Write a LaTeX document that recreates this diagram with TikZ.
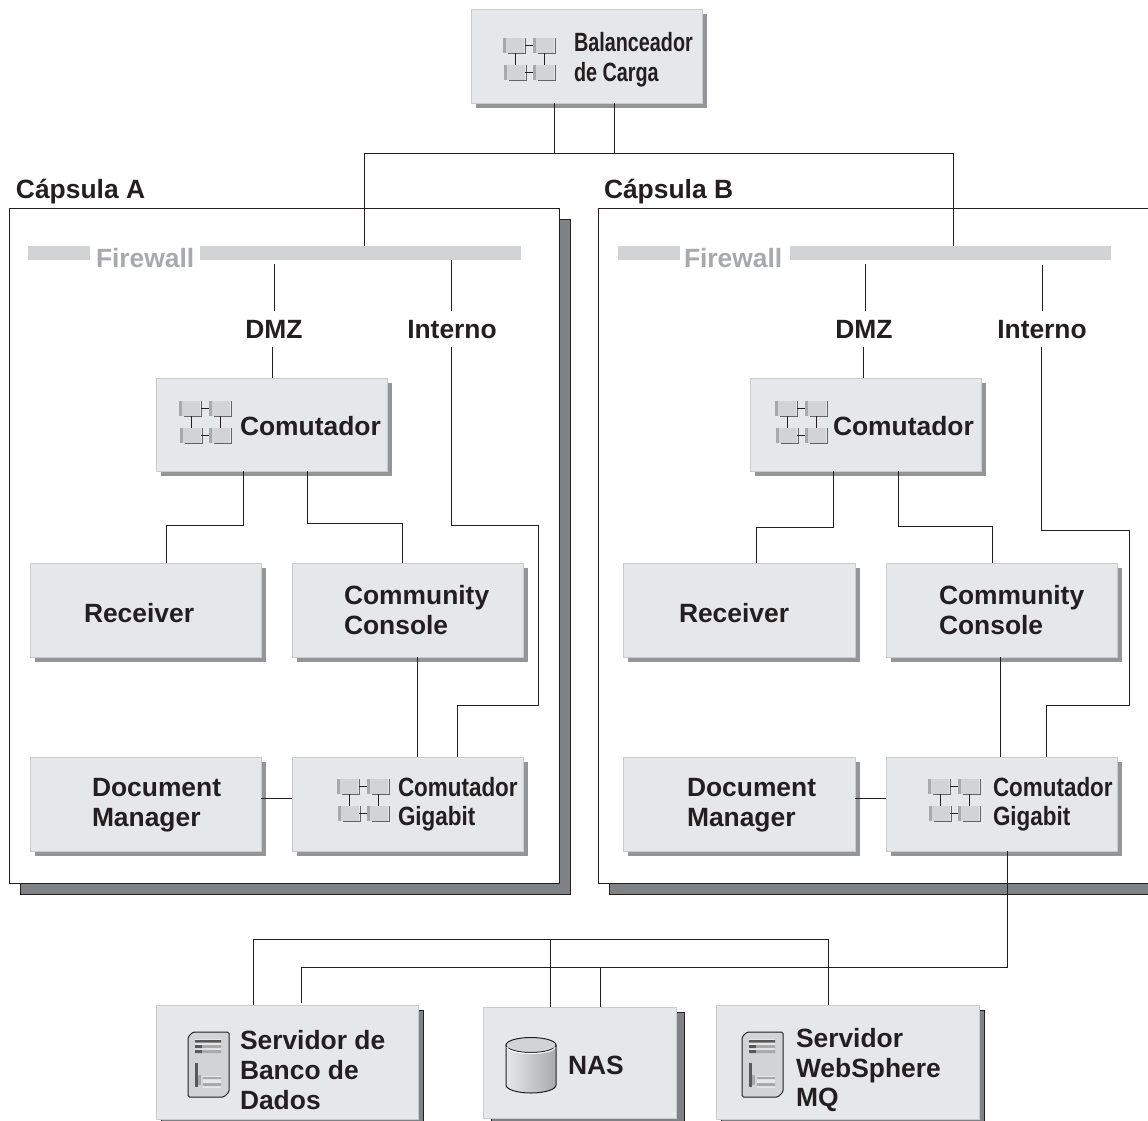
\documentclass[tikz,border=0pt]{standalone}
\usepackage{fontspec}
\setmainfont{Liberation Sans}
\usetikzlibrary{shadows}
\definecolor{ink}{HTML}{231F20}
\definecolor{boxfill}{HTML}{E6E7E8}
\definecolor{boxedge}{HTML}{C9CBCC}
\definecolor{shadelight}{HTML}{939598}
\definecolor{shadedark}{HTML}{808285}
\definecolor{barcol}{HTML}{D1D3D4}
\definecolor{fwtext}{HTML}{A7A9AC}
\newcommand{\narrowtext}[2]{\scalebox{#1}[1]{#2}}
\tikzset{
  x=1pt,y=-1pt,
  box/.style={draw=boxedge,fill=boxfill,line width=1pt,anchor=north west,inner sep=0,outer sep=0,
    drop shadow={shadow xshift=5pt,shadow yshift=-5pt,opacity=1,fill=shadelight,draw=none}},
  darkbox/.style={draw=boxedge,fill=boxfill,line width=1pt,anchor=north west,inner sep=0,outer sep=0,
    drop shadow={shadow xshift=#1,shadow yshift=-5pt,opacity=1,fill=shadedark,draw=ink,line width=.6pt}},
  capsule/.style={draw=ink,fill=white,line width=1pt,anchor=north west,inner sep=0,outer sep=0,
    drop shadow={shadow xshift=11pt,shadow yshift=-11pt,opacity=1,fill=shadedark,draw=ink,line width=.6pt}},
  bar/.style={fill=barcol,draw=none,anchor=north west,inner sep=0,outer sep=0,minimum height=14pt},
  txt/.style={font=\fontsize{26.4}{30}\selectfont\bfseries,text=ink,inner sep=0,outer sep=0,anchor=base west,align=left},
  fwtxt/.style={txt,text=fwtext},
  zonetxt/.style={font=\fontsize{26.4}{30}\selectfont\bfseries,text=ink,inner sep=9pt,outer sep=0,anchor=base},
  link/.style={draw=ink,line width=1pt},
  switchicon/.pic={
    \foreach \a/\b in {0/0,30/0,1/27,30/27}{
      \fill[barcol] (\a,\b) rectangle ++(21,15);
      \fill[fwtext] (\a,\b) rectangle ++(3,15);
      \draw[ink!70,line width=.8pt] (\a+5,\b+15) -- ++(17,0) -- ++(0,-15);
    }
    \draw[ink,line width=.9pt] (22,7) -- (30,7) (22,34) -- (30,34) (12,15) -- (12,27) (41,15) -- (41,27);
  },
  servericon/.pic={
    \draw[ink,line width=1pt,fill=barcol,rounded corners=1.5pt] (5,0) -- (41,0) -- (41,60) -- (36,65) -- (0,65) -- (0,5) -- cycle;
    \fill[boxfill] (7,7) rectangle (33,21);
    \fill[ink!75] (7,8) rectangle (33,10.5) (7,13) rectangle (14,16) (7,18) rectangle (14,21);
    \fill[fwtext] (14,13) rectangle (33,16) (14,18) rectangle (33,21);
    \fill[ink!75] (7,31) rectangle (10,55);
    \fill[fwtext] (10,43) rectangle (13,53);
    \fill[boxfill] (15,44) rectangle (33,56);
    \fill[fwtext] (15,45) rectangle (33,47) (15,51) rectangle (33,54);
  },
  cylindericon/.pic={
    \begin{scope}
      \clip (0,8) -- (0,48) arc[start angle=180,end angle=0,x radius=25,y radius=8] -- (50,8) -- cycle;
      \foreach \s in {0,...,24}{
        \pgfmathtruncatemacro{\p}{100-4*\s}
        \fill[boxfill!\p!fwtext] (2*\s,0) rectangle ++(2.4,60);
      }
    \end{scope}
    \draw[ink,line width=1pt] (0,8) -- (0,48) arc[start angle=180,end angle=0,x radius=25,y radius=8] -- (50,8);
    \draw[ink,line width=1pt,fill=barcol] (25,8) ellipse[x radius=25,y radius=7.5];
    \draw[white,line width=1pt] (1,10) arc[start angle=180,end angle=0,x radius=24,y radius=6.5];
  },
}
\begin{document}
\begin{tikzpicture}
\clip (0,0) rectangle (1148,1121);
\fill[white] (0,0) rectangle (1148,1121);

% capsules
\node[capsule,minimum width=550pt,minimum height=675pt] (capA) at (9.4,208.6) {};
\node[capsule,minimum width=570pt,minimum height=675pt] (capB) at (598.5,208.6) {};
\node[txt] (capAlbl) at (16,198.500) {Cápsula A};
\node[txt] (capBlbl) at (604,198.500) {Cápsula B};

% firewalls
\node[bar,minimum width=62pt] (fwAl) at (28,246) {};
\node[bar,minimum width=321pt] (fwAr) at (200,246) {};
\node[bar,minimum width=62pt] (fwBl) at (618,246) {};
\node[bar,minimum width=321pt] (fwBr) at (790,246) {};
\node[fwtxt] (fwAlbl) at (96,267) {Firewall};
\node[fwtxt] (fwBlbl) at (684,267) {Firewall};

% zone labels
\node[zonetxt] (dmzA) at (274,338) {DMZ};
\node[zonetxt] (intA) at (452,338) {Interno};
\node[zonetxt] (dmzB) at (864,338) {DMZ};
\node[zonetxt] (intB) at (1042,338) {Interno};
\coordinate (dmzAtop) at (274,264);
\coordinate (intAtop) at (451,260);
\coordinate (dmzBtop) at (865,264);
\coordinate (intBtop) at (1042,265);

% boxes
\node[box,minimum width=231pt,minimum height=94pt] (lb) at (471,9.500) {};
\node[box,minimum width=231pt,minimum height=93pt] (swA) at (156,378) {};
\node[box,minimum width=231pt,minimum height=94pt] (recA) at (30,563) {};
\node[box,minimum width=231pt,minimum height=94pt] (comA) at (292,563) {};
\node[box,minimum width=231pt,minimum height=94pt] (docA) at (30,757) {};
\node[box,minimum width=231pt,minimum height=94pt] (gigA) at (292,757) {};
\node[box,minimum width=231pt,minimum height=93pt] (swB) at (750,378) {};
\node[box,minimum width=232pt,minimum height=94pt] (recB) at (623,563) {};
\node[box,minimum width=231pt,minimum height=94pt] (comB) at (886,563) {};
\node[box,minimum width=232pt,minimum height=94pt] (docB) at (623,757) {};
\node[box,minimum width=231pt,minimum height=94pt] (gigB) at (886,757) {};
\node[darkbox=5pt,minimum width=262pt,minimum height=114pt] (db) at (156,1005) {};
\node[darkbox=8pt,minimum width=193pt,minimum height=111pt] (nas) at (483,1007) {};
\node[darkbox=5pt,minimum width=263pt,minimum height=114pt] (mq) at (716,1005) {};

% connectors
\coordinate (topL) at (364,153);
\coordinate (topR) at (953,153);
\draw[link] (554,0 |- lb.south) -- (554,153);
\draw[link] (614,0 |- lb.south) -- (614,153);
\draw[link] (fwAr.north -| topL) -- (topL) -- (topR) -- (fwBr.north -| topR);

\draw[link] (dmzAtop) -- (dmzA.north);
\draw[link] (272,0 |- dmzA.south) -- (272,0 |- swA.north);
\draw[link] (intAtop) -- (451,0 |- intA.north);
\draw[link] (451,0 |- intA.south) -- (451,525) -- (538,525) -- (538,705) -- (457,705) -- (457,0 |- gigA.north);
\draw[link] (243,0 |- swA.south) -- (243,525) -- (166,525) -- (166,0 |- recA.north);
\draw[link] (307,0 |- swA.south) -- (307,523) -- (402,523) -- (402,0 |- comA.north);
\draw[link] (417,0 |- comA.south) -- (417,0 |- gigA.north);
\draw[link] (docA.east |- 0,798) -- (gigA.west |- 0,798);

\draw[link] (dmzBtop) -- (865,0 |- dmzB.north);
\draw[link] (863,0 |- dmzB.south) -- (863,0 |- swB.north);
\draw[link] (intBtop) -- (1042,0 |- intB.north);
\draw[link] (1041,0 |- intB.south) -- (1041,530) -- (1129,530) -- (1129,705) -- (1046,705) -- (1046,0 |- gigB.north);
\draw[link] (833,0 |- swB.south) -- (833,527) -- (756,527) -- (756,0 |- recB.north);
\draw[link] (898,0 |- swB.south) -- (898,526) -- (992,526) -- (992,0 |- comB.north);
\draw[link] (1000,0 |- comB.south) -- (1000,0 |- gigB.north);
\draw[link] (docB.east |- 0,798) -- (gigB.west |- 0,798);

\draw[link] (1007,0 |- gigB.south) -- (1007,967) -- (301,967) -- (301,1003);
\draw[link] (600,967) -- (600,0 |- nas.north);
\draw[link] (253,0 |- db.north) -- (253,939) -- (828,939) -- (828,0 |- mq.north);
\draw[link] (550,939) -- (550,0 |- nas.north);

% icons
\pic at (503,38) {switchicon};
\pic at (179,401) {switchicon};
\pic at (775,401) {switchicon};
\pic at (337,779) {switchicon};
\pic at (928,779) {switchicon};
\pic at (188,1032) {servericon};
\pic at (742,1032) {servericon};
\pic at (506,1037) {cylindericon};

% labels
\node[txt] (lbLbl) at (574,52) {\narrowtext{.75}{Balanceador}};
\node[txt] (lbLbl2) at (574,82) {\narrowtext{.75}{de Carga}};
\node[txt] (swAlbl) at (240,435) {Comutador};
\node[txt] (swBlbl) at (833,435) {Comutador};
\node[txt] (recAlbl) at (84,622) {Receiver};
\node[txt] (recBlbl) at (679,622) {Receiver};
\node[txt] (comAlbl) at (344,604) {Community};
\node[txt] (comAlbl2) at (344,634) {Console};
\node[txt] (comBlbl) at (939,604) {Community};
\node[txt] (comBlbl2) at (939,634) {Console};
\node[txt] (docAlbl) at (92,796) {Document};
\node[txt] (docAlbl2) at (92,826) {Manager};
\node[txt] (docBlbl) at (687,796) {Document};
\node[txt] (docBlbl2) at (687,826) {Manager};
\node[txt] (gigAlbl) at (398,796) {\narrowtext{.85}{Comutador}};
\node[txt] (gigAlbl2) at (398,825) {\narrowtext{.85}{Gigabit}};
\node[txt] (gigBlbl) at (993,796) {\narrowtext{.85}{Comutador}};
\node[txt] (gigBlbl2) at (993,825) {\narrowtext{.85}{Gigabit}};
\node[txt] (dbLbl) at (240,1049) {Servidor de};
\node[txt] (dbLbl2) at (240,1079) {Banco de};
\node[txt] (dbLbl3) at (240,1109) {Dados};
\node[txt] (nasLbl) at (568,1074) {NAS};
\node[txt] (mqLbl) at (796,1047) {Servidor};
\node[txt] (mqLbl2) at (796,1077) {WebSphere};
\node[txt] (mqLbl3) at (796,1106) {MQ};
\end{tikzpicture}
\end{document}
